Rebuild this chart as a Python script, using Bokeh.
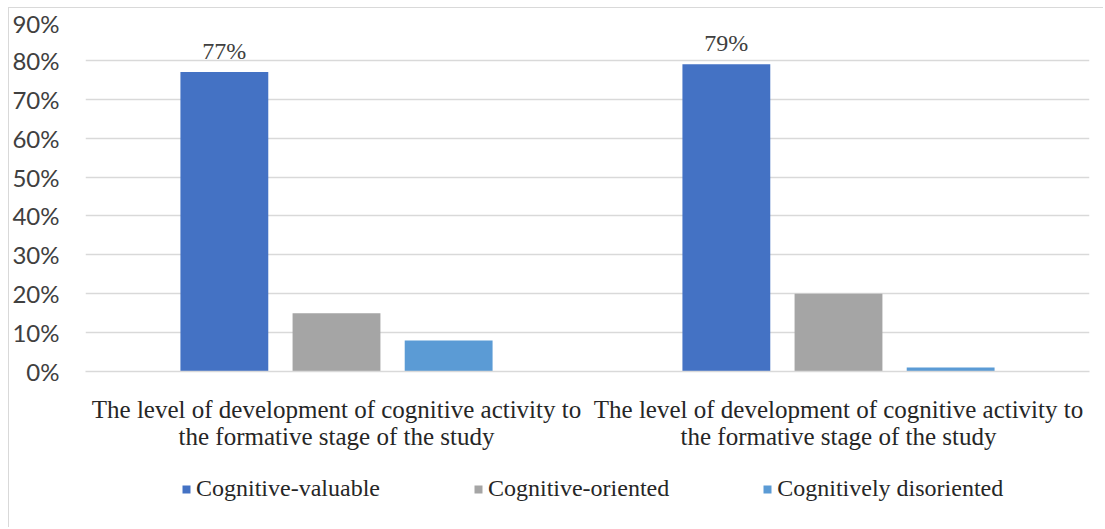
from bokeh.plotting import figure
from bokeh.layouts import column
from bokeh.models import (ColumnDataSource, FixedTicker, NumeralTickFormatter, Legend, LegendItem,
                          LabelSet, Range1d)
from bokeh.transform import dodge
from bokeh.embed import file_html
from bokeh.resources import INLINE

# ---- data ----
categories = ["The level of development of cognitive activity to\nthe formative stage of the study",
              "The level of development of cognitive activity to\nthe formative stage of the study"]
series_names = ["Cognitive-valuable", "Cognitive-oriented", "Cognitively disoriented"]
cognitive_valuable = [0.77, 0.79]
cognitive_oriented = [0.15, 0.20]
cognitively_disoriented = [0.08, 0.01]
y_ticks = [0.0, 0.1, 0.2, 0.3, 0.4, 0.5, 0.6, 0.7, 0.8, 0.9]

colors = ["#4472C4", "#A5A5A5", "#5B9BD5"]

idx = list(range(len(categories)))
src = ColumnDataSource(dict(
    x=idx,
    s0=cognitive_valuable,
    s1=cognitive_oriented,
    s2=cognitively_disoriented,
    lab0=[f"{round(v * 100)}%" for v in cognitive_valuable],
))

W = 1094
p = figure(width=W, height=455, output_backend="svg", toolbar_location=None,
           x_range=Range1d(-0.5, 1.5), y_range=Range1d(0, 0.9),
           min_border_left=73, min_border_right=14, min_border_top=13, min_border_bottom=92)
p.outline_line_color = None
p.background_fill_color = "white"
p.border_fill_color = "white"

offsets = [-0.2234, 0.0, 0.2234]
for i, col in enumerate(colors):
    p.vbar(x=dodge("x", offsets[i], range=p.x_range), top=f"s{i}", width=0.175,
           source=src, fill_color=col, line_color=None)

labels = LabelSet(x=dodge("x", offsets[0], range=p.x_range), y="s0", text="lab0", source=src,
                  text_align="center", text_baseline="bottom", y_offset=8,
                  text_font="Lato", text_font_size="24px", text_color="#404040")
p.add_layout(labels)

# axes
p.yaxis.ticker = FixedTicker(ticks=y_ticks)
p.yaxis.formatter = NumeralTickFormatter(format="0%")
p.yaxis.axis_line_color = None
p.yaxis.major_tick_line_color = None
p.yaxis.minor_tick_line_color = None
p.yaxis.major_label_standoff = 20
p.yaxis.major_label_text_font = "Lato"
p.yaxis.major_label_text_font_size = "24px"
p.yaxis.major_label_text_color = "#404040"

p.xaxis.ticker = FixedTicker(ticks=idx)
p.xaxis.major_label_overrides = {i: c for i, c in zip(idx, categories)}
p.xaxis.axis_line_color = "#d9d9d9"
p.xaxis.axis_line_width = 1.5
p.xaxis.major_tick_line_color = None
p.xaxis.minor_tick_line_color = None
p.xaxis.major_label_standoff = 18
p.xaxis.major_label_text_font = "Liberation Serif"
p.xaxis.major_label_text_font_size = "25px"
p.xaxis.major_label_text_line_height = 1.0
p.xaxis.major_label_text_color = "#262626"

p.xgrid.grid_line_color = None
p.ygrid.grid_line_color = "#d9d9d9"
p.ygrid.grid_line_width = 1.5

# legend strip (separate small figure so the legend is not clipped);
# its bars use the real data but sit outside this strip's visible range
lg = figure(width=W, height=64, output_backend="svg", toolbar_location=None,
            x_range=Range1d(10, 11), y_range=Range1d(10, 11),
            min_border_left=0, min_border_right=0, min_border_top=0, min_border_bottom=0)
lg.axis.visible = False
lg.grid.grid_line_color = None
lg.outline_line_color = None
lg.background_fill_color = "white"
lg.border_fill_color = "white"
proxies = [lg.vbar(x="x", top=f"s{i}", width=0.175, source=src, fill_color=c, line_color=None)
           for i, c in enumerate(colors)]

legend = Legend(items=[LegendItem(label=n, renderers=[r]) for n, r in zip(series_names, proxies)],
                orientation="horizontal", location=(96, 25),
                label_text_font="Liberation Serif", label_text_font_size="24px",
                label_text_color="#262626", glyph_width=10, glyph_height=10,
                label_standoff=5, spacing=93, border_line_color=None,
                background_fill_alpha=0, margin=0, padding=0)
lg.add_layout(legend)

layout = column(p, lg, spacing=0)
layout.styles = {"border-left": "1px solid #d9d9d9", "border-top": "1px solid #d9d9d9",
                 "margin-left": "8px", "margin-top": "7px"}

open("out.html", "w").write(file_html(layout, INLINE))
